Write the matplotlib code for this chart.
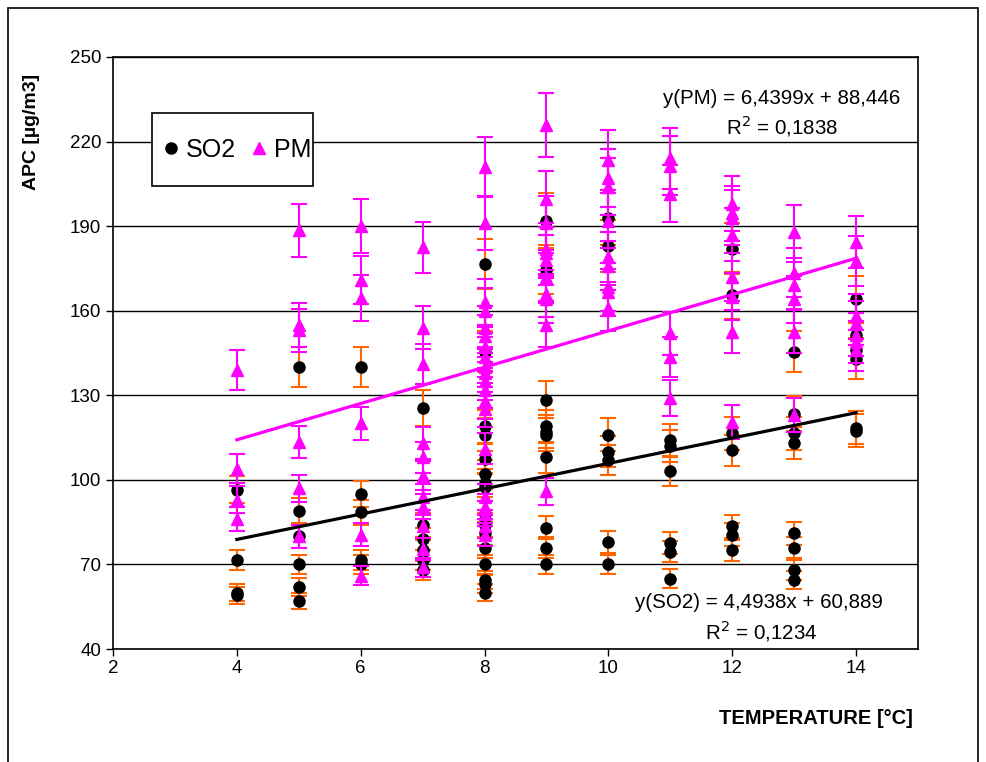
import matplotlib
matplotlib.use('Agg')
import matplotlib.pyplot as plt
from matplotlib.lines import Line2D

plt.rcParams['font.family'] = ['Liberation Sans', 'DejaVu Sans']

# measured APC values per temperature column
temps = [4, 5, 6, 7, 8, 9, 10, 11, 12, 13, 14]
so2_values = [
    [96.5, 71.5, 60, 59],
    [140, 89, 80, 70, 62, 57],
    [140, 95, 88.5, 71.5, 70],
    [125.5, 84, 79, 75, 71.5, 68],
    [176.5, 145.5, 119, 116, 107.5, 102, 99, 97.5, 88, 84, 81, 76, 70, 64.5, 63, 60],
    [192, 174.5, 128.5, 119, 117, 116, 108, 83, 76, 70],
    [193, 183, 116, 110, 107, 78, 70],
    [114, 112, 103, 77.5, 74.5, 65],
    [182, 165.5, 116.5, 110.5, 83.5, 80.5, 75],
    [145.5, 123.5, 116.5, 113, 81, 76, 68, 64.5],
    [164, 151.5, 146, 143, 118.5, 117.5],
]
pm_values = [
    [139, 104, 93, 86],
    [188.5, 155, 153, 113.5, 97, 80],
    [190, 171, 164.5, 120, 80.5, 66],
    [182.5, 154, 141, 113, 108, 101.5, 94, 90.5, 83.5, 75.5, 69],
    [211, 191, 163, 160, 154, 151, 147, 143.5, 140, 138, 135, 132, 128, 125, 111,
     94, 90.5, 88, 83.5, 80.5],
    [226, 199.5, 191, 182, 180.5, 178, 172, 166, 164, 155, 96],
    [213.5, 207, 204, 192, 179, 176, 168.5, 166.5, 161],
    [214, 211.5, 201.5, 152, 143.5, 129],
    [198, 194.5, 193, 187, 172, 165, 152.5, 120.5],
    [188, 173.5, 169, 164, 152.5, 123],
    [184.5, 177.5, 158, 155.5, 151.5, 149, 146],
]
error_pct = 5  # percentage error bars

# trendline coefficients shown on the chart
so2_slope, so2_intercept, so2_r2 = 4.4938, 60.889, 0.1234
pm_slope, pm_intercept, pm_r2 = 6.4399, 88.446, 0.1838
trend_x = [4, 14]

yticks = [40, 70, 100, 130, 160, 190, 220, 250]
xticks = [2, 4, 6, 8, 10, 12, 14]

so2_x = [t for t, vals in zip(temps, so2_values) for _ in vals]
so2_y = [v for vals in so2_values for v in vals]
pm_x = [t for t, vals in zip(temps, pm_values) for _ in vals]
pm_y = [v for vals in pm_values for v in vals]

W, H = 986, 762
fig = plt.figure(figsize=(W / 100, H / 100), dpi=100)
ax = fig.add_axes([113 / W, 1 - 649 / H, (918 - 113) / W, (649 - 57) / H])

ax.set_xlim(2, 15)
ax.set_ylim(40, 250)
ax.set_yticks(yticks)
ax.set_xticks(xticks)
ax.yaxis.grid(True, color='black', linewidth=1)
ax.set_axisbelow(True)
for s in ax.spines.values():
    s.set_color('black')
    s.set_linewidth(1.2)
ax.tick_params(direction='out', length=5, width=1, labelsize=13.5, colors='black')
ax.tick_params(axis='x', pad=3)

ax.errorbar(so2_x, so2_y, yerr=[v * error_pct / 100 for v in so2_y], fmt='none',
            ecolor='#FF6600', elinewidth=1.5, capsize=6, capthick=1.5, zorder=2)
ax.plot(so2_x, so2_y, 'o', color='black', markersize=8, zorder=3)
ax.errorbar(pm_x, pm_y, yerr=[v * error_pct / 100 for v in pm_y], fmt='none',
            ecolor='#FF00FF', elinewidth=1.5, capsize=6, capthick=1.5, zorder=4)
ax.plot(pm_x, pm_y, '^', color='#FF00FF', markersize=9, zorder=5)

ax.plot(trend_x, [so2_slope * x + so2_intercept for x in trend_x], color='black', lw=2.3, zorder=6)
ax.plot(trend_x, [pm_slope * x + pm_intercept for x in trend_x], color='#FF00FF', lw=2.3, zorder=6)

def fmt(v, nd):
    return f"{v:.{nd}f}".replace('.', ',')

fig.text(782 / W, 1 - 98 / H, f"y(PM) = {fmt(pm_slope, 4)}x + {fmt(pm_intercept, 3)}",
         ha='center', va='center', fontsize=14.8)
fig.text(782 / W, 1 - 126 / H, f"R$^2$ = {fmt(pm_r2, 4)}", ha='center', va='center', fontsize=14.8)
fig.text(759 / W, 1 - 602 / H, f"y(SO2) = {fmt(so2_slope, 4)}x + {fmt(so2_intercept, 3)}",
         ha='center', va='center', fontsize=14.8)
fig.text(761 / W, 1 - 631 / H, f"R$^2$ = {fmt(so2_r2, 4)}", ha='center', va='center', fontsize=14.8)

fig.text(913 / W, 1 - 718 / H, "TEMPERATURE [°C]", ha='right', va='center',
         fontsize=14.5, fontweight='bold')
fig.text(32 / W, 1 - 132 / H, "APC [µg/m3]", ha='center', va='center', rotation=90,
         fontsize=14, fontweight='bold')

# legend box drawn separately, entries placed inside it
fig.add_artist(plt.Rectangle((152 / W, 1 - 186 / H), (313 - 152) / W, (186 - 113) / H,
                             fill=True, facecolor='white', edgecolor='black',
                             linewidth=1.2, transform=fig.transFigure, zorder=10))
handles = [Line2D([], [], marker='o', color='black', ls='none', markersize=8),
           Line2D([], [], marker='^', color='#FF00FF', ls='none', markersize=9)]
leg = fig.legend(handles, ['SO2', 'PM'], ncol=2, loc='center',
                 bbox_to_anchor=(237 / W, 1 - 150 / H), fontsize=18, frameon=False,
                 handlelength=0.6, handletextpad=0.3, columnspacing=0.62,
                 borderpad=0, borderaxespad=0)
leg.set_zorder(11)

fig.add_artist(plt.Rectangle((8 / W, -0.05), (978 - 8) / W, 1.05 - 8 / H, fill=False,
                             edgecolor='black', linewidth=1.2, transform=fig.transFigure))

fig.savefig('out.png', dpi=100)
